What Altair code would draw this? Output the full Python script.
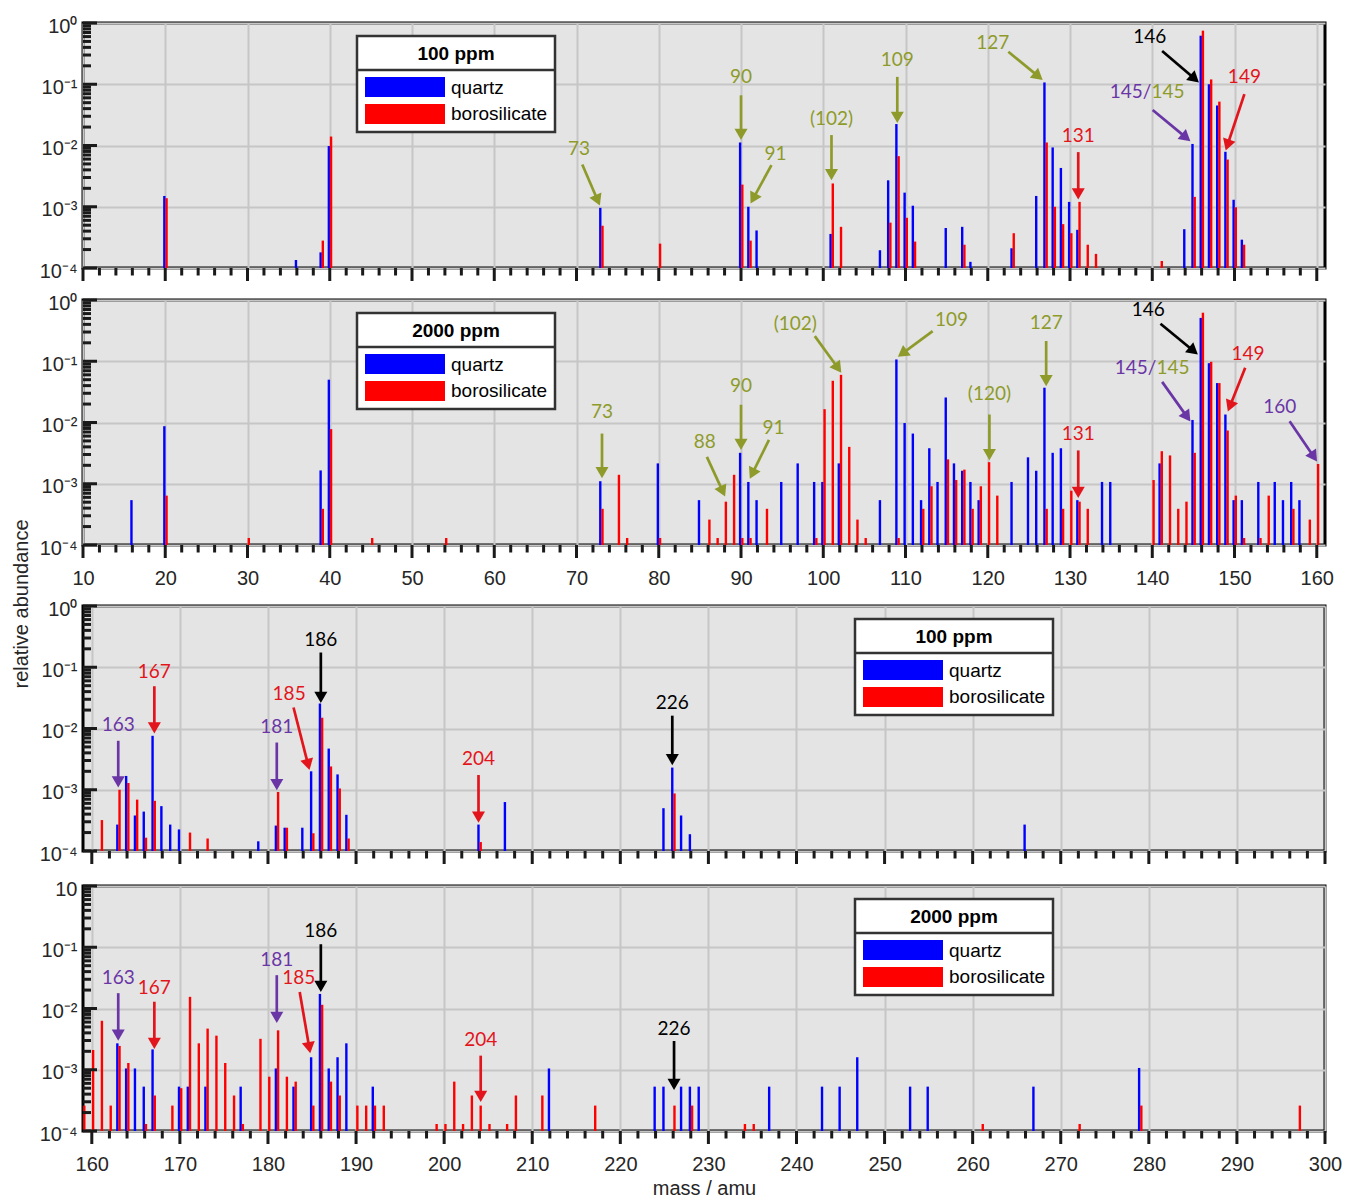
import math
import altair as alt
import pandas as pd

# ---------------- data ----------------
# panel 1: 100 ppm, 10-160 amu
q1_mass = [20, 36, 39, 40, 73, 90, 91, 92, 101, 107, 108, 109, 110, 111, 115, 117, 118, 123, 126, 127,
           128, 129, 130, 131, 144, 145, 146, 147, 148, 149, 150, 151]
q1_val = [1.5e-3, 1.35e-4, 1.8e-4, 9.8e-3, 9.6e-4, 1.12e-2, 1.0e-3, 4.1e-4, 3.6e-4, 1.95e-4,
          2.7e-3, 2.24e-2, 1.7e-3, 1.04e-3, 4.5e-4, 4.7e-4, 1.26e-4, 2.1e-4, 1.5e-3, 0.107,
          9.3e-3, 4.3e-3, 1.2e-3, 4.2e-4, 4.3e-4, 1.06e-2, 0.62, 0.1, 0.045, 7.9e-3,
          1.3e-3, 2.9e-4]
r1_mass = [20, 39, 40, 73, 80, 90, 91, 101, 102, 108, 109, 110, 111, 117, 123, 127, 128, 129, 130, 131,
           132, 133, 141, 145, 146, 147, 148, 149, 150, 151]
r1_val = [1.38e-3, 2.8e-4, 1.4e-2, 4.9e-4, 2.5e-4, 2.3e-3, 2.8e-4, 2.4e-3, 4.7e-4, 5.5e-4,
          6.7e-3, 6.6e-4, 2.7e-4, 2.4e-4, 3.7e-4, 1.12e-2, 1.0e-3, 5.2e-4, 3.7e-4, 1.2e-3,
          2.4e-4, 1.7e-4, 1.3e-4, 1.45e-3, 0.75, 0.12, 0.052, 5.9e-3, 9.8e-4, 2.4e-4]

# panel 2: 2000 ppm, 10-160 amu
q2_mass = [16, 20, 39, 40, 73, 80, 85, 90, 91, 92, 95, 97, 99, 100, 102, 107, 109, 110, 111, 112,
           113, 114, 115, 116, 117, 118, 119, 123, 125, 126, 127, 128, 129, 131, 134, 135, 141, 145, 146, 147,
           148, 149, 150, 151, 153, 155, 156, 157, 158]
q2_val = [5.4e-4, 8.7e-3, 1.65e-3, 5.0e-2, 1.1e-3, 2.15e-3, 5.4e-4, 3.2e-3, 1.07e-3, 5.4e-4,
          1.07e-3, 2.15e-3, 1.07e-3, 1.07e-3, 2.15e-3, 5.4e-4, 0.107, 9.8e-3, 6.6e-3, 5.4e-4,
          3.8e-3, 1.07e-3, 2.56e-2, 2.15e-3, 1.63e-3, 1.07e-3, 5.4e-4, 1.07e-3, 2.7e-3, 1.63e-3,
          3.7e-2, 3.2e-3, 3.8e-3, 5.4e-4, 1.07e-3, 1.07e-3, 2.15e-3, 1.1e-2, 0.51, 9.3e-2,
          4.4e-2, 1.35e-2, 5.4e-4, 5.4e-4, 1.07e-3, 1.07e-3, 5.4e-4, 1.07e-3, 5.4e-4]
r2_mass = [20, 30, 39, 40, 45, 54, 73, 75, 76, 80, 86, 87, 88, 89, 90, 91, 93, 99, 100, 101,
           102, 103, 104, 105, 109, 112, 113, 115, 116, 117, 118, 119, 120, 121, 127, 129, 130, 131, 132, 140,
           141, 142, 143, 144, 145, 146, 147, 148, 149, 150, 151, 153, 154, 157, 159, 160]
r2_val = [6.4e-4, 1.3e-4, 3.9e-4, 7.8e-3, 1.3e-4, 1.3e-4, 3.9e-4, 1.4e-3, 1.3e-4, 1.3e-4,
          2.6e-4, 1.3e-4, 5.1e-4, 1.4e-3, 1.3e-4, 1.3e-4, 3.9e-4, 1.3e-4, 1.65e-2, 4.8e-2,
          6.0e-2, 4.0e-3, 2.6e-4, 1.3e-4, 1.3e-4, 3.9e-4, 9.1e-4, 2.5e-3, 1.15e-3, 1.7e-3,
          3.9e-4, 9.1e-4, 2.25e-3, 6.4e-4, 3.9e-4, 3.9e-4, 7.7e-4, 5.1e-4, 3.9e-4, 1.15e-3,
          3.4e-3, 2.9e-3, 3.9e-4, 5.1e-4, 3.2e-3, 0.62, 9.8e-2, 4.4e-2, 7.4e-3, 6.4e-4,
          1.3e-4, 1.3e-4, 6.4e-4, 3.9e-4, 2.6e-4, 2.1e-3]

# panel 3: 100 ppm, 160-300 amu
q3_mass = [163, 164, 165, 166, 167, 168, 169, 170, 179, 181, 182, 184, 185, 186, 187, 188, 189, 204, 207, 225,
           226, 227, 228, 266]
q3_val = [2.7e-4, 1.68e-3, 3.8e-4, 4.4e-4, 7.6e-3, 5.4e-4, 2.7e-4, 2.25e-4, 1.44e-4, 2.6e-4,
          2.4e-4, 2.4e-4, 2.0e-3, 2.56e-2, 4.7e-3, 1.78e-3, 3.9e-4, 2.7e-4, 6.3e-4, 5.0e-4,
          2.3e-3, 3.8e-4, 1.88e-4, 2.7e-4]
r3_mass = [161, 163, 164, 165, 166, 167, 171, 173, 181, 182, 185, 186, 187, 188, 189, 204, 226]
r3_val = [3.2e-4, 1.0e-3, 1.29e-3, 6.9e-4, 1.65e-4, 6.6e-4, 2.0e-4, 1.6e-4, 9.2e-4, 2.4e-4,
          1.95e-4, 1.5e-2, 2.4e-3, 1.05e-3, 1.6e-4, 1.4e-4, 8.7e-4]

# panel 4: 2000 ppm, 160-300 amu
q4_mass = [163, 164, 165, 166, 167, 170, 171, 173, 177, 181, 183, 185, 186, 187, 188, 189, 192, 212, 224, 225,
           227, 228, 229, 237, 243, 245, 247, 253, 255, 267, 279]
q4_val = [2.7e-3, 1.05e-3, 1.05e-3, 5.3e-4, 2.15e-3, 5.3e-4, 5.3e-4, 5.3e-4, 5.3e-4, 1.05e-3,
          5.3e-4, 1.6e-3, 1.73e-2, 1.05e-3, 1.6e-3, 2.7e-3, 5.3e-4, 1.05e-3, 5.3e-4, 5.3e-4,
          5.3e-4, 5.3e-4, 5.3e-4, 5.3e-4, 5.3e-4, 5.3e-4, 1.6e-3, 5.3e-4, 5.3e-4, 5.3e-4,
          1.07e-3]
r4_mass = [159, 160, 161, 162, 163, 164, 166, 167, 169, 170, 171, 172, 173, 174, 175, 176, 177, 179, 180, 181,
           182, 183, 185, 186, 187, 188, 190, 191, 192, 193, 199, 200, 201, 202, 203, 204, 205, 207, 208, 211,
           217, 226, 228, 234, 235, 261, 272, 279, 297]
r4_val = [2.6e-4, 2.1e-3, 6.3e-3, 2.6e-4, 2.45e-3, 1.29e-3, 1.3e-4, 3.8e-4, 2.6e-4, 5.0e-4,
          1.55e-2, 2.7e-3, 4.7e-3, 3.6e-3, 1.29e-3, 3.8e-4, 1.3e-4, 3.2e-3, 7.7e-4, 4.4e-3,
          7.7e-4, 6.4e-4, 2.6e-4, 1.15e-2, 6.4e-4, 3.8e-4, 2.6e-4, 2.6e-4, 2.6e-4, 2.6e-4,
          1.3e-4, 1.3e-4, 6.4e-4, 1.3e-4, 3.8e-4, 2.6e-4, 1.3e-4, 1.3e-4, 3.8e-4, 3.8e-4,
          2.6e-4, 2.6e-4, 2.6e-4, 1.3e-4, 1.3e-4, 1.3e-4, 1.3e-4, 2.6e-4, 2.6e-4]

# annotations: (label, colour, mass, abundance, align)
t1 = [("73", "olive", 70.3, 8.7e-3, "center"), ("90", "olive", 90, 0.129, "center"),
      ("91", "olive", 94.2, 7.4e-3, "center"), ("(102)", "olive", 101.0, 0.027, "center"),
      ("109", "olive", 109, 0.25, "center"), ("127", "olive", 120.6, 0.48, "center"),
      ("131", "red", 131, 0.0145, "center"), ("145/", "purple", 139.9, 0.076, "right"),
      ("145", "olive", 139.9, 0.076, "left"), ("146", "black", 139.7, 0.6, "center"),
      ("149", "red", 151.2, 0.129, "center")]
# arrows: (colour, from mass, from abundance, to mass, to abundance)
a1 = [("olive", 70.7, 4.9e-3, 72.75, 1.12e-3), ("olive", 90, 0.066, 90, 0.0132),
      ("olive", 93.7, 4.8e-3, 91.27, 1.2e-3), ("olive", 101.0, 0.0148, 101.0, 2.9e-3),
      ("olive", 109, 0.132, 109, 0.025), ("olive", 122.5, 0.34, 126.5, 0.123),
      ("red", 131, 7.8e-3, 131, 1.41e-3), ("purple", 140.05, 0.038, 144.46, 0.0123),
      ("black", 141.2, 0.35, 145.5, 0.112), ("red", 151.2, 0.069, 149.0, 8.9e-3)]

t2 = [("73", "olive", 73.1, 0.0148, "center"), ("88", "olive", 85.6, 4.8e-3, "center"),
      ("90", "olive", 90, 0.039, "center"), ("91", "olive", 93.95, 8.1e-3, "center"),
      ("(102)", "olive", 96.6, 0.4, "center"), ("109", "olive", 115.6, 0.47, "center"),
      ("127", "olive", 127.1, 0.42, "center"), ("(120)", "olive", 120.2, 0.029, "center"),
      ("131", "red", 131, 6.5e-3, "center"), ("145/", "purple", 140.5, 0.078, "right"),
      ("145", "olive", 140.5, 0.078, "left"), ("146", "black", 139.5, 0.69, "center"),
      ("149", "red", 151.65, 0.129, "center"), ("160", "purple", 155.5, 0.0178, "center")]
a2 = [("olive", 73.1, 6.6e-3, 73.1, 1.32e-3), ("olive", 85.85, 2.75e-3, 87.97, 6.6e-4),
      ("olive", 90, 0.0195, 90, 3.8e-3), ("olive", 93.4, 5.2e-3, 91.17, 1.29e-3),
      ("olive", 98.97, 0.257, 102.06, 0.069), ("olive", 113.3, 0.31, 109.25, 0.123),
      ("olive", 127.1, 0.214, 127.1, 0.042), ("olive", 120.2, 0.0135, 120.2, 2.6e-3),
      ("red", 131, 3.5e-3, 131, 6.3e-4), ("purple", 141.2, 0.046, 144.5, 0.011),
      ("black", 141.0, 0.41, 145.37, 0.135), ("red", 151.3, 0.078, 149.27, 0.0162),
      ("purple", 156.7, 0.0105, 159.9, 2.45e-3)]

t3 = [("163", "purple", 163.0, 0.0112, "center"), ("167", "red", 167.1, 0.085, "center"),
      ("181", "purple", 181, 0.0107, "center"), ("185", "red", 182.4, 0.037, "center"),
      ("186", "black", 186, 0.275, "center"), ("204", "red", 203.9, 3.2e-3, "center"),
      ("226", "black", 225.9, 0.0257, "center")]
a3 = [("purple", 163, 6.3e-3, 163, 1.17e-3), ("red", 167.1, 0.049, 167.1, 8.9e-3),
      ("purple", 181, 5.9e-3, 181, 1.05e-3), ("red", 182.9, 0.022, 184.66, 2.24e-3),
      ("black", 186, 0.174, 186, 0.028), ("red", 203.9, 1.74e-3, 203.9, 3.1e-4),
      ("black", 225.9, 0.0162, 225.9, 2.7e-3)]

t4 = [("163", "purple", 163, 0.032, "center"), ("167", "red", 167.1, 0.022, "center"),
      ("181", "purple", 181, 0.062, "center"), ("185", "red", 183.5, 0.032, "center"),
      ("186", "black", 186, 0.186, "center"), ("204", "red", 204.15, 3.1e-3, "center"),
      ("226", "black", 226.1, 4.7e-3, "center")]
a4 = [("purple", 163, 0.0178, 163, 3.2e-3), ("red", 167.1, 0.0129, 167.1, 2.34e-3),
      ("purple", 181, 0.035, 181, 6.2e-3), ("red", 183.6, 0.0186, 184.76, 2.0e-3),
      ("black", 186, 0.112, 186, 0.02), ("red", 204.15, 1.7e-3, 204.15, 3.2e-4),
      ("black", 226.1, 2.95e-3, 226.1, 5.0e-4)]

legend_titles = ["100 ppm", "2000 ppm", "100 ppm", "2000 ppm"]
series_names = ["quartz", "borosilicate"]
y_top_labels = ["10\u2070", "10\u2070", "10\u2070", "10"]

# ---------------- styling ----------------
W, H = 1242, 245
PPD = H / 4.0
FONT = "Liberation Sans, Arial, sans-serif"
AFONT = "Lato, Open Sans, sans-serif"
TXT = "#262626"
GRID = "#c6c6c6"
BG = "#e4e4e4"
BLUE, RED = "#0000ff", "#ff0000"
COL = {"olive": "#8e9b2b", "purple": "#6a36a6", "red": "#e3151c", "black": "#000000"}
HEAD_SIZE = 170
HEAD_BACK = math.sqrt(3) * (math.sqrt(HEAD_SIZE) / 2) / 2
SUPS = ["\u207b\u00b9", "\u207b\u00b2", "\u207b\u00b3", "\u207b\u2074"]
ONE = pd.DataFrame({"k": [0]})


def panel(qm, qv, rm, rv, texts, arrows, dom, ltitle, lx, xlabels, xtitle, top_label, ytitle=False):
    assert len(qm) == len(qv) and len(rm) == len(rv)
    ppa = W / (dom[1] - dom[0])
    xs = alt.Scale(domain=dom, nice=False, zero=False)
    ys = alt.Scale(type="log", domain=[1e-4, 1], nice=False)
    majors = [v for v in range(0, 301, 10) if dom[0] <= v <= dom[1]]
    names = [top_label] + ["10" + s for s in SUPS]
    lab_expr = "[" + ",".join("'%s'" % n for n in names) + "][round(-log(datum.value)/LN10)]"
    xaxis_kw = dict(values=majors, ticks=False, domain=False, grid=True, gridColor=GRID, gridWidth=2,
                    labels=xlabels, labelFont=FONT, labelFontSize=20, labelColor=TXT,
                    labelPadding=23, labelFlush=False, title=xtitle if xtitle else None)
    if xtitle:
        xaxis_kw.update(titleFont=FONT, titleFontSize=20, titleFontWeight="normal",
                        titleColor=TXT, titlePadding=4)
    xaxis = alt.Axis(**xaxis_kw)
    yaxis = alt.Axis(values=[1e-4, 1e-3, 1e-2, 1e-1, 1], ticks=False, domain=False, grid=True,
                     gridColor=GRID, gridWidth=2, labelExpr=lab_expr, labelFont=FONT,
                     labelFontSize=20, labelColor=TXT, labelPadding=6, labelOffset=3, title=None)

    def X(f):
        return alt.X(f, type="quantitative", scale=xs, axis=xaxis)

    def Y(f):
        return alt.Y(f, type="quantitative", scale=ys, axis=yaxis)

    layers = []
    qdf = pd.DataFrame({"m": qm, "v": qv})
    rdf = pd.DataFrame({"m": rm, "v": rv})
    layers.append(alt.Chart(qdf).mark_rule(color=BLUE, strokeWidth=2.4, xOffset=-0.9)
                  .encode(x=X("m"), y=Y("v"), y2=alt.datum(1e-4)))
    layers.append(alt.Chart(rdf).mark_rule(color=RED, strokeWidth=2.4, xOffset=1.3)
                  .encode(x=X("m"), y=Y("v"), y2=alt.datum(1e-4)))

    # inward y ticks (log minor + decade)
    ymin = [k * 10.0 ** e for e in range(-4, 0) for k in range(2, 10)]
    ymaj = [1e-4, 1e-3, 1e-2, 1e-1, 1.0]
    layers.append(alt.Chart(pd.DataFrame({"t": ymin})).mark_rule(color="#1a1a1a", strokeWidth=3)
                  .encode(y=Y("t"), x=alt.value(0), x2=alt.value(8)))
    layers.append(alt.Chart(pd.DataFrame({"t": ymaj})).mark_rule(color="#1a1a1a", strokeWidth=3)
                  .encode(y=Y("t"), x=alt.value(0), x2=alt.value(14)))
    # outward x ticks
    start = dom[0] + (dom[0] % 2)
    xt = list(range(int(start), int(dom[1]) + 1, 2))
    xmin = [v for v in xt if v % 10 != 0]
    xmaj = [v for v in xt if v % 10 == 0]
    layers.append(alt.Chart(pd.DataFrame({"t": xmin})).mark_rule(color="#1a1a1a", strokeWidth=3)
                  .encode(x=X("t"), y=alt.value(H), y2=alt.value(H + 7.5)))
    layers.append(alt.Chart(pd.DataFrame({"t": xmaj})).mark_rule(color="#1a1a1a", strokeWidth=3)
                  .encode(x=X("t"), y=alt.value(H), y2=alt.value(H + 13)))

    # legend box
    layers.append(alt.Chart(ONE).mark_rect(fill="white", stroke="#333333", strokeWidth=2.5)
                  .encode(x=alt.value(lx), x2=alt.value(lx + 198), y=alt.value(13), y2=alt.value(109)))
    layers.append(alt.Chart(ONE).mark_rule(color="#333333", strokeWidth=2.5)
                  .encode(x=alt.value(lx), x2=alt.value(lx + 198), y=alt.value(47)))
    layers.append(alt.Chart(ONE).mark_rect(color=BLUE)
                  .encode(x=alt.value(lx + 8), x2=alt.value(lx + 88), y=alt.value(54), y2=alt.value(74)))
    layers.append(alt.Chart(ONE).mark_rect(color=RED)
                  .encode(x=alt.value(lx + 8), x2=alt.value(lx + 88), y=alt.value(81), y2=alt.value(101)))
    layers.append(alt.Chart(ONE).mark_text(text=ltitle, font=FONT, fontSize=19, fontWeight="bold",
                                           align="center", baseline="middle", color="black")
                  .encode(x=alt.value(lx + 99), y=alt.value(31)))
    layers.append(alt.Chart(ONE).mark_text(text=series_names[0], font=FONT, fontSize=19,
                                           align="left", baseline="middle", color="black")
                  .encode(x=alt.value(lx + 94), y=alt.value(65)))
    layers.append(alt.Chart(ONE).mark_text(text=series_names[1], font=FONT, fontSize=19,
                                           align="left", baseline="middle", color="black")
                  .encode(x=alt.value(lx + 94), y=alt.value(91)))

    # arrows
    rows = []
    for c, x1, y1, x2, y2 in arrows:
        px1, py1 = x1 * ppa, -math.log10(y1) * PPD
        px2, py2 = x2 * ppa, -math.log10(y2) * PPD
        dx, dy = px2 - px1, py2 - py1
        L = math.hypot(dx, dy)
        ux, uy = dx / L, dy / L
        cx, cy = px2 - ux * HEAD_BACK, py2 - uy * HEAD_BACK
        ang = math.degrees(math.atan2(ux, -uy)) % 360
        rows.append({"c": COL[c], "x1": x1, "y1": y1, "hx": cx / ppa, "hy": 10 ** (-cy / PPD), "ang": ang})
    adf = pd.DataFrame(rows)
    layers.append(alt.Chart(adf).mark_rule(strokeWidth=2.7)
                  .encode(x=X("x1"), x2=alt.X2("hx"), y=Y("y1"), y2=alt.Y2("hy"),
                          color=alt.Color("c:N", scale=None)))
    layers.append(alt.Chart(adf).mark_point(shape="triangle", filled=True, size=HEAD_SIZE, opacity=1)
                  .encode(x=X("hx"), y=Y("hy"), angle=alt.Angle("ang:Q", scale=None),
                          color=alt.Color("c:N", scale=None)))

    # annotation texts
    tdf = pd.DataFrame(texts, columns=["label", "cn", "x", "y", "align"])
    tdf["c"] = tdf["cn"].map(COL)
    for al in ["center", "right", "left"]:
        sub = tdf[tdf["align"] == al]
        if len(sub):
            layers.append(alt.Chart(sub).mark_text(font=AFONT, fontSize=19, align=al, baseline="middle")
                          .encode(x=X("x"), y=Y("y"), text="label:N", color=alt.Color("c:N", scale=None)))

    if ytitle:
        layers.append(alt.Chart(ONE).mark_text(text="relative abundance", angle=270, font=FONT,
                                               fontSize=20, color=TXT, align="center", baseline="middle")
                      .encode(x=alt.value(-61), y=alt.value(304)))

    return alt.layer(*layers).properties(width=W, height=H)


def spacer(h):
    return (alt.Chart(ONE).mark_point(opacity=0).encode(x=alt.value(0), y=alt.value(0))
            .properties(width=W, height=h,
                        view=alt.ViewBackground(stroke="transparent", fill="transparent")))


LO, HI = [10, 161], [159, 300]
p1 = panel(q1_mass, q1_val, r1_mass, r1_val, t1, a1, LO, legend_titles[0], 274, False, None, y_top_labels[0])
p2 = panel(q2_mass, q2_val, r2_mass, r2_val, t2, a2, LO, legend_titles[1], 274, True, None, y_top_labels[1],
           ytitle=True)
p3 = panel(q3_mass, q3_val, r3_mass, r3_val, t3, a3, HI, legend_titles[2], 772, False, None, y_top_labels[2])
p4 = panel(q4_mass, q4_val, r4_mass, r4_val, t4, a4, HI, legend_titles[3], 772, True, "mass / amu",
           y_top_labels[3])

chart = (alt.vconcat(p1, spacer(32), p2, spacer(61), p3, spacer(35), p4, spacing=0, bounds="flush")
         .properties(padding={"left": 10, "top": 14, "right": 0, "bottom": 0})
         .configure(background="white")
         .configure_view(stroke="black", strokeWidth=3, fill=BG))

chart.save("out.html", embed_options={"renderer": "svg", "actions": False})
